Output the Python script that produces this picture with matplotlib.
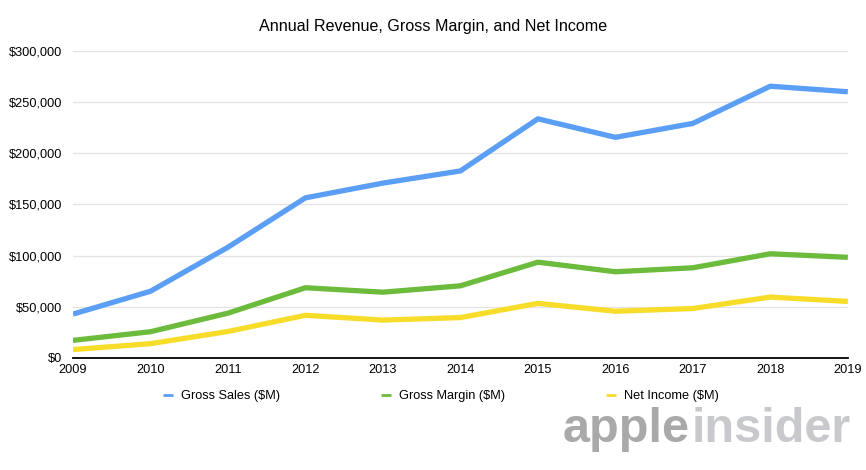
import matplotlib
matplotlib.use("Agg")
import matplotlib.pyplot as plt
from matplotlib.ticker import FuncFormatter
from matplotlib.lines import Line2D

years = [2009, 2010, 2011, 2012, 2013, 2014, 2015, 2016, 2017, 2018, 2019]
gross_sales = [42905, 65225, 108249, 156508, 170910, 182795, 233715, 215639, 229234, 265595, 260174]
gross_margin = [17222, 25684, 43818, 68662, 64304, 70537, 93626, 84263, 88186, 101839, 98392]
net_income = [8235, 14013, 25922, 41733, 37037, 39510, 53394, 45687, 48351, 59531, 55256]
series_labels = ["Gross Sales ($M)", "Gross Margin ($M)", "Net Income ($M)"]
y_ticks = [0, 50000, 100000, 150000, 200000, 250000, 300000]

colors = ["#5a9ff5", "#6cbb3c", "#f7dd2a"]

plt.rcParams['font.family'] = ['Liberation Sans', 'DejaVu Sans']

fig = plt.figure(figsize=(8.66, 4.70), dpi=100)
ax = fig.add_axes([0.0843, 0.2383, 0.8947, 0.6532])

for vals, c in zip([gross_sales, gross_margin, net_income], colors):
    ax.plot(years, vals, color=c, lw=3.8, solid_capstyle='butt', solid_joinstyle='round', zorder=3)

ax.set_xlim(2009, 2019)
ax.set_ylim(0, 300000)
ax.set_xticks(years)
ax.set_yticks(y_ticks)
ax.yaxis.set_major_formatter(FuncFormatter(lambda v, p: f"${int(v):,}"))
ax.grid(axis='y', color='#e3e3e3', lw=0.9, zorder=0)
for s in ['top', 'right', 'left']:
    ax.spines[s].set_visible(False)
ax.spines['bottom'].set_color('black')
ax.spines['bottom'].set_linewidth(1.3)
ax.tick_params(axis='both', length=0, labelsize=9.2, colors='black')
ax.tick_params(axis='y', pad=8)
ax.tick_params(axis='x', pad=4)

fig.text(0.5, 0.944, "Annual Revenue, Gross Margin, and Net Income", ha='center', va='center', fontsize=11.6)

handles = [Line2D([0], [0], color=c, lw=2, solid_capstyle='butt') for c in colors]
leg = fig.legend(handles, series_labels, loc='center', bbox_to_anchor=(0.509, 0.157), ncol=3,
                 frameon=False, fontsize=9.2, handlelength=0.8, handletextpad=0.6, columnspacing=7.9,
                 borderpad=0, borderaxespad=0)

t1 = fig.text(563/866, 1 - 442/470, "apple", ha='left', va='baseline', fontsize=35,
              fontweight='bold', color='#a9a9a9')
fig.canvas.draw()
bb = t1.get_window_extent()
fig.text((bb.x1 + 2) / fig.bbox.width, 1 - 442/470, "insider", ha='left', va='baseline', fontsize=35,
         fontweight='bold', color='#c7c9cc')

fig.savefig("out.png", dpi=100)
